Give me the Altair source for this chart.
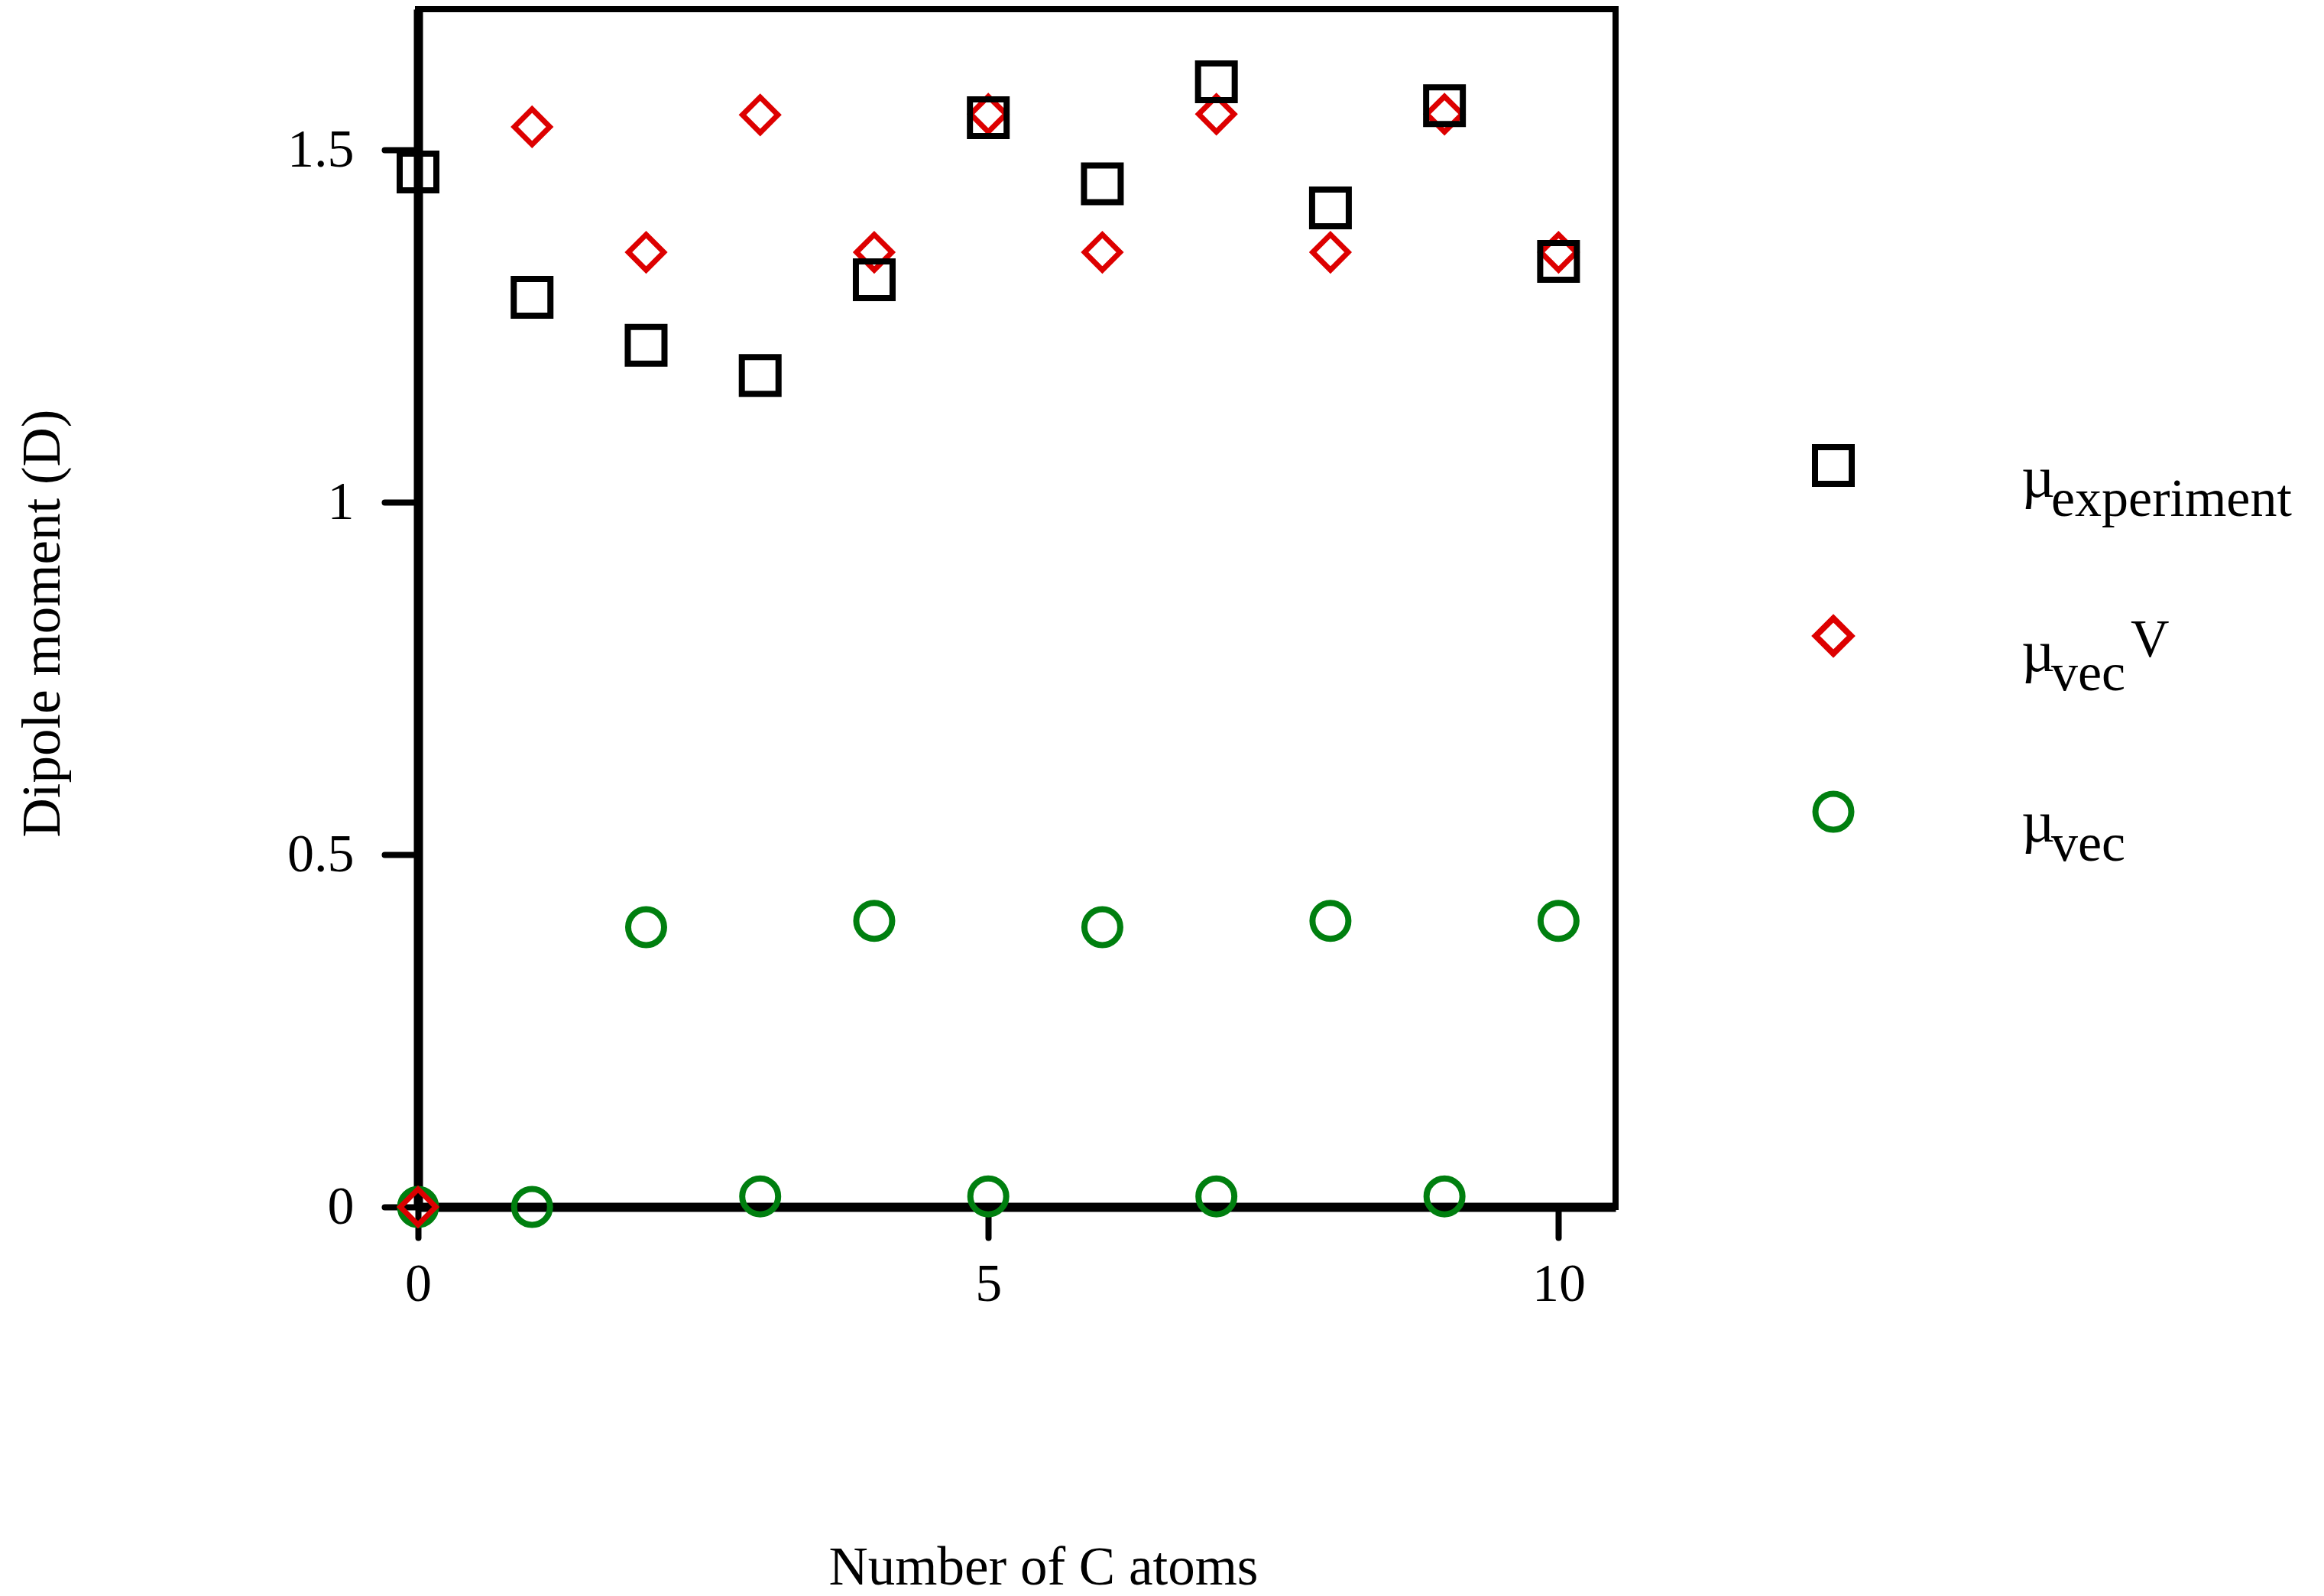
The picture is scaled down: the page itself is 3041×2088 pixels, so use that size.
import altair as alt
import pandas as pd

# ---- data ----
n_atoms = list(range(11))
mu_experiment = [1.469, 1.291, 1.223, 1.180, 1.316, 1.546, 1.452, 1.597, 1.418, 1.563, 1.342]
mu_vec_V = [0.0, 1.533, 1.355, 1.550, 1.355, 1.551, 1.355, 1.551, 1.355, 1.551, 1.355]
mu_vec = [0.0, 0.0, 0.397, 0.015, 0.406, 0.015, 0.397, 0.015, 0.406, 0.015, 0.406]

x_ticks = [0, 5, 10]
y_ticks = [0, 0.5, 1, 1.5]

legend_main = ["µ", "µ", "µ"]
legend_sub = ["experiment", "vec", "vec"]
legend_sup = ["", "V", ""]

COL_EXP = "#000000"
COL_VECV = "#dd0000"
COL_VEC = "#007f0f"
FONT = "Liberation Serif"
W, H = 1567, 1567

x_enc = alt.X(
    "n:Q",
    scale=alt.Scale(domain=[0, 10.5], nice=False, zero=False),
    axis=alt.Axis(
        values=x_ticks, format="d", title="Number of C atoms",
        tickSize=40, labelPadding=27, labelBaseline="top", labelFlush=False,
        titleX=818, titleY=493, titleBaseline="alphabetic", titleAlign="center",
        titleAnchor="start",
    ),
)
y_enc = alt.Y(
    "mu:Q",
    scale=alt.Scale(domain=[0, 1.7], nice=False, zero=False),
    axis=alt.Axis(
        values=y_ticks, format=".1~f", title="Dipole moment (D)",
        tickSize=44, labelPadding=40, labelBaseline="middle", labelFlush=False,
        titleX=-470, titleY=803, titleBaseline="alphabetic", titleAlign="center",
        titleAngle=270, titleAnchor="start",
    ),
)


def series_layer(vals, shape, color, size, sw):
    df = pd.DataFrame({"n": n_atoms, "mu": vals})
    return alt.Chart(df).mark_point(
        shape=shape, filled=False, color=color, size=size, strokeWidth=sw, opacity=1
    ).encode(x=x_enc, y=y_enc)


layers = [
    series_layer(mu_vec, "circle", COL_VEC, 2209, 8),
    series_layer(mu_vec_V, "diamond", COL_VECV, 2150, 7),
    series_layer(mu_experiment, "square", COL_EXP, 2304, 8),
]

# ---- manual legend (sub/superscripts need separate text runs) ----
key_shapes = ["square", "diamond", "circle"]
key_colors = [COL_EXP, COL_VECV, COL_VEC]
key_sizes = [2304, 2150, 2209]
key_y = [597, 820, 1050]
sub_baseline = [663, 891, 1114]
KEY_X = 1852
MU_X = 2098
SUB_X = 2137
SUP_X = 2241


def one(text):
    return pd.DataFrame({"t": [text]})


for i in range(3):
    layers.append(
        alt.Chart(one(legend_sub[i])).mark_point(
            shape=key_shapes[i], filled=False, color=key_colors[i],
            size=key_sizes[i], strokeWidth=8, opacity=1,
        ).encode(x=alt.value(KEY_X), y=alt.value(key_y[i]))
    )
    layers.append(
        alt.Chart(one(legend_main[i])).mark_text(
            font=FONT, fontSize=76, align="left", baseline="alphabetic", color="black"
        ).encode(x=alt.value(MU_X), y=alt.value(sub_baseline[i] - 25), text="t:N")
    )
    layers.append(
        alt.Chart(one(legend_sub[i])).mark_text(
            font=FONT, fontSize=70, align="left", baseline="alphabetic", color="black"
        ).encode(x=alt.value(SUB_X), y=alt.value(sub_baseline[i]), text="t:N")
    )
    if legend_sup[i]:
        layers.append(
            alt.Chart(one(legend_sup[i])).mark_text(
                font=FONT, fontSize=70, align="left", baseline="alphabetic", color="black"
            ).encode(x=alt.value(SUP_X), y=alt.value(sub_baseline[i] - 44), text="t:N")
        )

chart = (
    alt.layer(*layers)
    .properties(width=W, height=H, padding={"left": 12, "top": 4, "right": 5, "bottom": 5})
    .configure_view(stroke="black", strokeWidth=8)
    .configure_axis(
        domainColor="black", domainWidth=12, tickColor="black", tickWidth=8,
        tickCap="round", grid=False, labelFont=FONT, labelFontSize=70,
        labelColor="black", titleFont=FONT, titleFontSize=71,
        titleFontWeight="normal", titleColor="black",
    )
    .configure_text(font=FONT)
)

chart.save("out.html", embed_options={"renderer": "svg", "actions": False})
